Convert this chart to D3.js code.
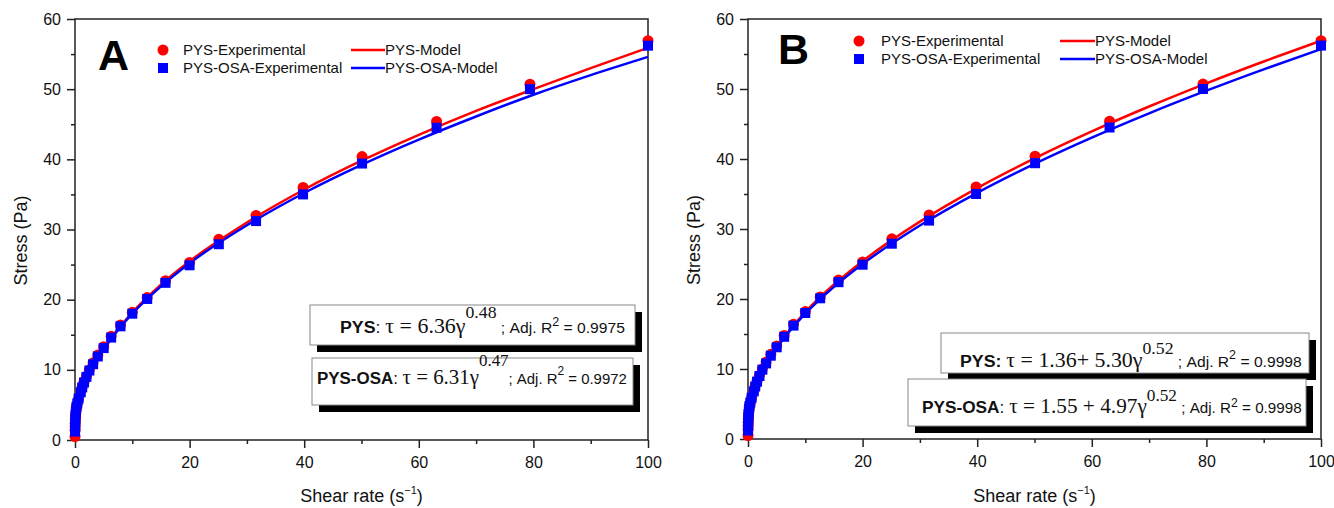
<!DOCTYPE html>
<html>
<head>
<meta charset="utf-8">
<script src="https://cdn.jsdelivr.net/npm/d3@7"></script>
<style>
body { margin: 0; background: #fff; }
svg { display: block; }
text { white-space: pre; }
</style>
</head>
<body>
<script>
// experimental points (same measurements shown in both panels)
const shearRate = [0.01, 0.0158, 0.0251, 0.0398, 0.0631, 0.1, 0.158, 0.251, 0.398, 0.631,
    1, 1.26, 1.58, 2, 2.51, 3.16, 3.98, 5.01, 6.31, 7.94,
    10, 12.6, 15.8, 20, 25.1, 31.6, 39.8, 50.1, 63.1, 79.4, 100];
const pysStress = [0.5, 1.4, 1.9, 2.4, 2.9, 3.4, 3.9, 4.5, 5.1, 5.9,
    6.9, 7.6, 8.3, 9.1, 10.0, 11.0, 12.1, 13.3, 14.8, 16.4,
    18.2, 20.3, 22.7, 25.3, 28.6, 32.0, 36.0, 40.4, 45.4, 50.7, 56.9];
const pysOsaStress = [1.2, 1.7, 2.1, 2.6, 3.1, 3.6, 4.1, 4.7, 5.2, 5.9,
    6.8, 7.5, 8.2, 9.0, 9.9, 10.8, 11.9, 13.1, 14.6, 16.2,
    18.0, 20.1, 22.4, 24.9, 27.9, 31.2, 35.0, 39.4, 44.5, 50.0, 56.2];

// model curves
const modelRate = [0, 0.05, 0.2, 0.5, 1, 2, 3, 5, 7, 10, 15, 20, 30, 40, 50, 60, 70, 80, 90, 100];
const pysModelA = [0, 1.38, 2.70, 4.22, 5.92, 8.30, 10.11, 12.97, 15.27, 18.17, 22.13, 25.47, 31.0, 35.7, 39.8, 43.5, 46.9, 50.0, 53.0, 55.9];
const pysOsaModelA = [0, 1.39, 2.72, 4.24, 5.92, 8.27, 10.06, 12.88, 15.15, 18.0, 21.9, 25.2, 30.6, 35.2, 39.2, 42.8, 46.1, 49.2, 52.0, 54.6];
const pysModelB = [1.36, 2.43, 3.55, 4.89, 6.43, 8.62, 10.33, 13.06, 15.29, 18.13, 22.07, 25.41, 31.05, 35.85, 40.09, 43.94, 47.5, 50.81, 53.93, 56.9];
const pysOsaModelB = [1.55, 2.59, 3.69, 4.99, 6.49, 8.63, 10.29, 12.95, 15.13, 17.9, 21.74, 25.0, 30.5, 35.17, 39.31, 43.06, 46.53, 49.76, 52.81, 55.7];

const xTicks = [0, 20, 40, 60, 80, 100];
const xMinorTicks = [10, 30, 50, 70, 90];
const yTicks = [0, 10, 20, 30, 40, 50, 60];
const yMinorTicks = [5, 15, 25, 35, 45, 55];
const legendLabels = ["PYS-Experimental", "PYS-OSA-Experimental", "PYS-Model", "PYS-OSA-Model"];

const eqA1 = [["PYS", "b"], [": ", "s"], ["τ = 6.36γ", "t"], ["0.48", "tsup"], [" ; Adj. R", "r"], ["2", "rsup"], [" = 0.9975", "r"]];
const eqA2 = [["PYS-OSA", "b"], [": ", "s"], ["τ = 6.31γ", "t"], ["0.47", "tsup"], ["; Adj. R", "r"], ["2", "rsup"], [" = 0.9972", "r"]];
const eqB1 = [["PYS:", "b"], [" ", "s"], ["τ = 1.36+ 5.30γ", "t"], ["0.52", "tsup"], [" ; Adj. R", "r"], ["2", "rsup"], [" = 0.9998", "r"]];
const eqB2 = [["PYS-OSA", "b"], [": ", "s"], ["τ = 1.55 + 4.97γ", "t"], ["0.52", "tsup"], [" ; Adj. R", "r"], ["2", "rsup"], [" = 0.9998", "r"]];

const SANS = "'Liberation Sans', Arial, sans-serif";
const SERIF = "'Liberation Serif', 'Times New Roman', serif";
const RED = "#ff0000";
const BLUE = "#0000ff";

const svgWidth = 1334;
const svgHeight = 508;

const panels = [
    {
        letter: "A", left: 75, right: 648, top: 19, bottom: 440,
        pysModel: pysModelA, osaModel: pysOsaModelA,
        letterX: 98, letterY: 70,
        legend: {markX: 163, row1: 50, row2: 68, textX: 183, lineX1: 351, lineX2: 385},
        boxes: [
            {x: 310, y: 305, w: 325, h: 40, shadow: 7, x0: 340, x1: 625, base: 333, parts: eqA1, supT: -15, supR: -7},
            {x: 312, y: 358, w: 321, h: 47, shadow: 7, x0: 317, x1: 627, base: 384, parts: eqA2, supT: -18, supR: -9}
        ]
    },
    {
        letter: "B", left: 748, right: 1321, top: 19, bottom: 439,
        pysModel: pysModelB, osaModel: pysOsaModelB,
        letterX: 778, letterY: 64,
        legend: {markX: 859, row1: 41, row2: 59, textX: 881, lineX1: 1060, lineX2: 1095},
        boxes: [
            {x: 941, y: 333, w: 368, h: 40, shadow: 7, x0: 960, x1: 1302, base: 367, parts: eqB1, supT: -13, supR: -8},
            {x: 908, y: 379, w: 398, h: 47, shadow: 7, x0: 922, x1: 1302, base: 413, parts: eqB2, supT: -12, supR: -6}
        ]
    }
];

const svg = d3.select("body")
    .append("svg")
    .attr("width", svgWidth)
    .attr("height", svgHeight);

panels.forEach(p => draw_panel(p));

function draw_panel(p) {
    const x = d3.scaleLinear().domain([0, 100]).range([p.left, p.right]);
    const y = d3.scaleLinear().domain([0, 60]).range([p.bottom, p.top]);

    // axes (major + minor ticks, outward)
    const xAxis = svg.append("g")
        .attr("transform", `translate(0,${p.bottom})`)
        .call(d3.axisBottom(x).tickValues(xTicks).tickSize(8).tickPadding(9).tickFormat(d3.format("d")));
    const xMinor = svg.append("g")
        .attr("transform", `translate(0,${p.bottom})`)
        .call(d3.axisBottom(x).tickValues(xMinorTicks).tickSize(4).tickFormat(""));
    const yAxis = svg.append("g")
        .attr("transform", `translate(${p.left},0)`)
        .call(d3.axisLeft(y).tickValues(yTicks).tickSize(8).tickPadding(6).tickFormat(d3.format("d")));
    const yMinor = svg.append("g")
        .attr("transform", `translate(${p.left},0)`)
        .call(d3.axisLeft(y).tickValues(yMinorTicks).tickSize(4).tickFormat(""));

    [xAxis, xMinor, yAxis, yMinor].forEach(a => {
        a.select(".domain").remove();
        a.selectAll("line").attr("stroke", "#222").attr("stroke-width", 1.5);
        a.selectAll("text").style("font-family", SANS).style("font-size", "16px").attr("fill", "#111");
    });

    // frame
    svg.append("rect")
        .attr("x", p.left).attr("y", p.top)
        .attr("width", p.right - p.left).attr("height", p.bottom - p.top)
        .attr("fill", "none").attr("stroke", "#222").attr("stroke-width", 1.5);

    // axis titles
    const xt = svg.append("text")
        .attr("x", (p.left + p.right) / 2).attr("y", 502)
        .attr("text-anchor", "middle")
        .style("font-family", SANS).style("font-size", "18px").attr("fill", "#111");
    xt.append("tspan").text("Shear rate (s");
    xt.append("tspan").attr("dy", -8).style("font-size", "11px").text("−1");
    xt.append("tspan").attr("dy", 8).text(")");

    svg.append("text")
        .attr("transform", `translate(${p.left - 48},${(p.top + p.bottom) / 2 + 11}) rotate(-90)`)
        .attr("text-anchor", "middle")
        .style("font-family", SANS).style("font-size", "18px").attr("fill", "#111")
        .text("Stress (Pa)");

    // model lines
    const line = d3.line().x(d => x(d[0])).y(d => y(d[1])).curve(d3.curveMonotoneX);
    svg.append("path")
        .datum(modelRate.map((r, i) => [r, p.pysModel[i]]))
        .attr("d", line).attr("fill", "none").attr("stroke", RED).attr("stroke-width", 2.5);
    svg.append("path")
        .datum(modelRate.map((r, i) => [r, p.osaModel[i]]))
        .attr("d", line).attr("fill", "none").attr("stroke", BLUE).attr("stroke-width", 2.5);

    // experimental points
    svg.append("g").selectAll("circle")
        .data(shearRate.map((r, i) => [r, pysStress[i]]))
        .join("circle")
        .attr("cx", d => x(d[0])).attr("cy", d => y(d[1])).attr("r", 5.5)
        .attr("fill", RED);
    svg.append("g").selectAll("rect")
        .data(shearRate.map((r, i) => [r, pysOsaStress[i]]))
        .join("rect")
        .attr("x", d => x(d[0]) - 5).attr("y", d => y(d[1]) - 5)
        .attr("width", 10).attr("height", 10)
        .attr("fill", BLUE);

    // panel letter
    svg.append("text")
        .attr("x", p.letterX).attr("y", p.letterY)
        .style("font-family", SANS).style("font-size", "43px").style("font-weight", "bold")
        .text(p.letter);

    // legend
    const lg = p.legend;
    svg.append("circle").attr("cx", lg.markX).attr("cy", lg.row1).attr("r", 5.5).attr("fill", RED);
    svg.append("rect").attr("x", lg.markX - 5).attr("y", lg.row2 - 5).attr("width", 10).attr("height", 10).attr("fill", BLUE);
    svg.append("line").attr("x1", lg.lineX1).attr("x2", lg.lineX2).attr("y1", lg.row1).attr("y2", lg.row1)
        .attr("stroke", RED).attr("stroke-width", 2.5);
    svg.append("line").attr("x1", lg.lineX1).attr("x2", lg.lineX2).attr("y1", lg.row2).attr("y2", lg.row2)
        .attr("stroke", BLUE).attr("stroke-width", 2.5);
    const legendPos = [[lg.textX, lg.row1], [lg.textX, lg.row2], [lg.lineX2, lg.row1], [lg.lineX2, lg.row2]];
    legendLabels.forEach((lab, i) => {
        svg.append("text")
            .attr("x", legendPos[i][0]).attr("y", legendPos[i][1] + 5)
            .style("font-family", SANS).style("font-size", "15px").attr("fill", "#111")
            .text(lab);
    });

    p.boxes.forEach(b => draw_equation(b));
}

function draw_equation(box) {
    svg.append("rect")
        .attr("x", box.x + box.shadow).attr("y", box.y + box.shadow)
        .attr("width", box.w).attr("height", box.h).attr("fill", "#000");
    svg.append("rect")
        .attr("x", box.x).attr("y", box.y)
        .attr("width", box.w).attr("height", box.h)
        .attr("fill", "#fff").attr("stroke", "#888").attr("stroke-width", 1);

    const styles = {
        b: {font: SANS, size: 17, bold: true, dy: 0},
        s: {font: SANS, size: 17, bold: false, dy: 0},
        t: {font: SERIF, size: 21, bold: false, dy: 0},
        tsup: {font: SERIF, size: 17, bold: false, dy: box.supT},
        r: {font: SANS, size: 15, bold: false, dy: 0},
        rsup: {font: SANS, size: 12, bold: false, dy: box.supR}
    };
    const g = svg.append("g");
    const t = g.append("text").attr("x", 0).attr("y", box.base).attr("fill", "#111");
    box.parts.forEach(([txt, k]) => {
        const st = styles[k];
        t.append("tspan")
            .attr("y", box.base + st.dy)
            .style("font-family", st.font)
            .style("font-size", st.size + "px")
            .style("font-weight", st.bold ? "bold" : "normal")
            .text(txt);
    });
    const bb = t.node().getBBox();
    const sx = (box.x1 - box.x0) / bb.width;
    g.attr("transform", `translate(${box.x0},0) scale(${sx},1) translate(${-bb.x},0)`);
}
</script>
</body>
</html>
